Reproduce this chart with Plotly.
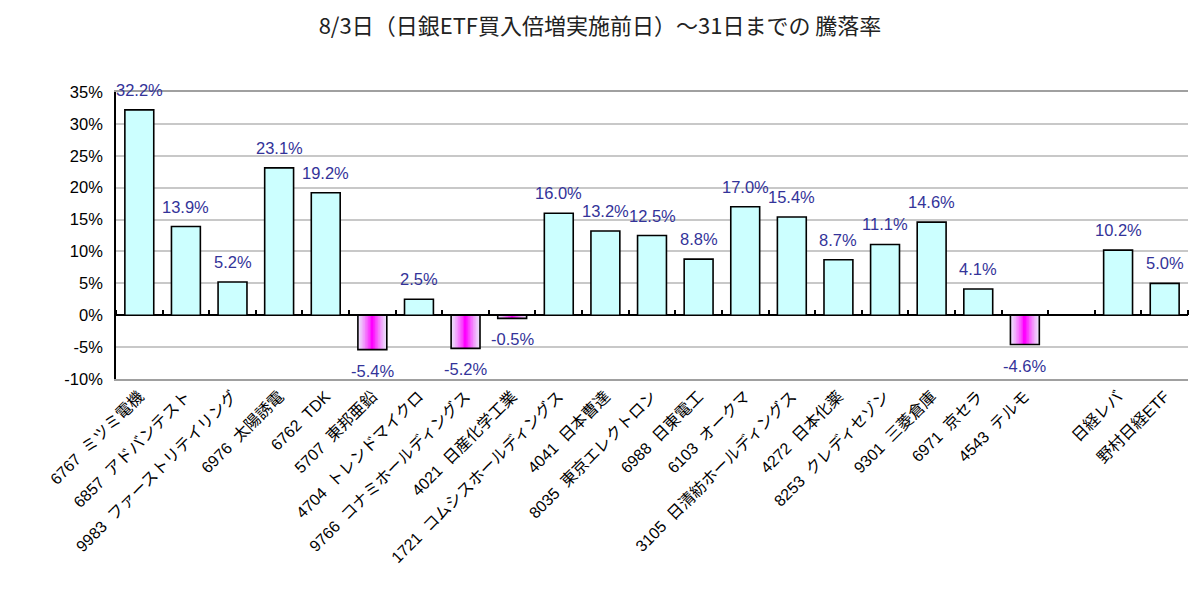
import plotly.graph_objects as go

codes = ["6767", "6857", "9983", "6976", "6762", "5707", "4704", "9766", "4021", "1721",
         "4041", "8035", "6988", "6103", "3105", "4272", "8253", "9301", "6971", "4543",
         "", "", ""]
names = ["ミツミ電機", "アドバンテスト", "ファーストリテイリング", "太陽誘電", "TDK", "東邦亜鉛",
         "トレンドマイクロ", "コナミホールディングス", "日産化学工業", "コムシスホールディングス",
         "日本曹達", "東京エレクトロン", "日東電工", "オークマ", "日清紡ホールディングス",
         "日本化薬", "クレディセゾン", "三菱倉庫", "京セラ", "テルモ",
         " ", "日経レバ", "野村日経ETF"]
values = [32.2, 13.9, 5.2, 23.1, 19.2, -5.4, 2.5, -5.2, -0.5, 16.0,
          13.2, 12.5, 8.8, 17.0, 15.4, 8.7, 11.1, 14.6, 4.1, -4.6,
          None, 10.2, 5.0]
y_ticks = [-10, -5, 0, 5, 10, 15, 20, 25, 30, 35]
y_ticktext = [f"{t}%" for t in y_ticks]

title = "8/3日（日銀ETF買入倍増実施前日）～31日までの 騰落率"

cats = [(c + "  " + n) if c else n for c, n in zip(codes, names)]

BAR_W = 0.62
FONT = "Liberation Sans, Arial, Noto Sans CJK JP"

fig = go.Figure()

# base fill
base_colors = ["#CCFFFF" if (v is not None and v >= 0) else "#EEEAFB" for v in values]
fig.add_trace(go.Bar(x=cats, y=values, width=BAR_W, marker=dict(color=base_colors, line=dict(width=0)),
                     hoverinfo="skip", showlegend=False))

# gradient strips for negative bars
neg = [v if (v is not None and v < 0) else None for v in values]
steps = 9
c0 = (236, 230, 251)
c1 = (255, 0, 255)
for i in range(1, steps + 1):
    t = i / steps
    w = BAR_W * (1 - t) + 0.04
    col = tuple(int(c0[k] + (c1[k] - c0[k]) * (t ** 1.3)) for k in range(3))
    fig.add_trace(go.Bar(x=cats, y=neg, width=w,
                         marker=dict(color="rgb(%d,%d,%d)" % col, line=dict(width=0)),
                         hoverinfo="skip", showlegend=False))

# outlines on top
fig.add_trace(go.Bar(x=cats, y=values, width=BAR_W, xaxis="x2",
                     marker=dict(color="rgba(0,0,0,0)", line=dict(color="black", width=1.6)),
                     showlegend=False))

# data labels
for c, v in zip(cats, values):
    if v is None:
        continue
    fig.add_annotation(x=c, y=v, text=f"{v:.1f}%", showarrow=False,
                       yshift=20 if v >= 0 else -21,
                       font=dict(family=FONT, size=16.5, color="#333399"))

zero_pos = (0 - y_ticks[0]) / (y_ticks[-1] - y_ticks[0])

fig.update_layout(
    width=1200, height=610,
    margin=dict(l=116, r=12, t=92, b=231),
    paper_bgcolor="white", plot_bgcolor="white",
    barmode="overlay",
    title=dict(text=title, x=0.5, xanchor="center", y=1 - 26 / 610, yanchor="middle",
               yref="container", font=dict(family="Noto Sans CJK JP", size=22, color="#222")),
    xaxis=dict(type="category", categoryorder="array", categoryarray=cats,
               range=[-0.5, len(cats) - 0.5],
               tickangle=-45, ticks="", showline=True, linecolor="#A0A0A0", linewidth=1.5,
               mirror=True, showgrid=False,
               tickfont=dict(family=FONT, size=16, color="black")),
    xaxis2=dict(type="category", categoryorder="array", categoryarray=cats,
                range=[-0.5, len(cats) - 0.5], overlaying="x", anchor="free",
                position=zero_pos, side="top", showticklabels=False,
                ticks="outside", tickson="boundaries", ticklen=5, tickcolor="black",
                tickwidth=1.5, showline=False, showgrid=False),
    yaxis=dict(range=[y_ticks[0], y_ticks[-1]], tickvals=y_ticks, ticktext=y_ticktext,
               tickmode="array",
               showgrid=True, gridcolor="#C8C8C8", gridwidth=1.5,
               zeroline=True, zerolinecolor="black", zerolinewidth=1.6,
               showline=True, linecolor="black", linewidth=1.6, ticks="",
               ticklabelstandoff=8,
               tickfont=dict(family=FONT, size=16.5, color="black")),
)

fig.write_html("out.html")
